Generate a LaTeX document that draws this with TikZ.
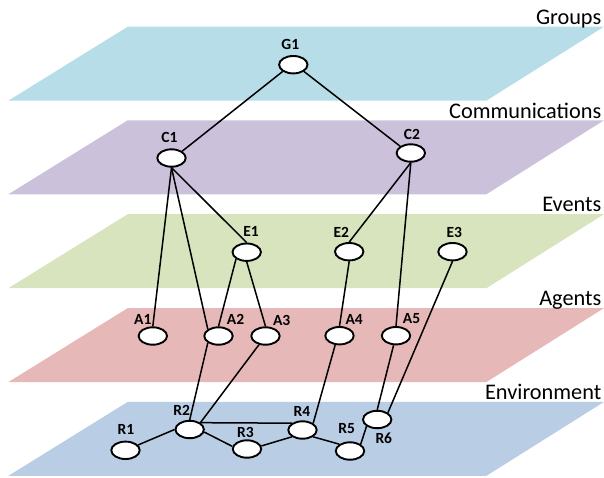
\documentclass[tikz,border=0pt]{standalone}
\usepackage{fontspec}
\setmainfont{Carlito}
\usetikzlibrary{shapes.geometric}
\pgfdeclarelayer{bg}
\pgfdeclarelayer{edges}
\pgfsetlayers{bg,edges,main}
\definecolor{plG}{HTML}{B7DDE8}
\definecolor{plC}{HTML}{CCC1DA}
\definecolor{plE}{HTML}{D7E4BD}
\definecolor{plA}{HTML}{E6B9B8}
\definecolor{plR}{HTML}{B9CDE5}
\begin{document}
\begin{tikzpicture}[x=1pt,y=-1pt,
  vtx/.style={ellipse,draw=black,fill=white,line width=1.9pt,minimum width=28.4pt,minimum height=17.4pt,inner sep=0pt},
  vlab/.style={inner sep=0pt,font=\bfseries\fontsize{15.5}{16}\selectfont},
  layerlab/.style={inner sep=0pt,anchor=base east,font=\fontsize{22.3}{24}\selectfont},
  conn/.style={line width=1.5pt,draw=black}]
\useasboundingbox (0,0) rectangle (604,477);
\begin{pgfonlayer}{bg}
\foreach \T/\c in {26.7/plG,120.3/plC,214.2/plE,308.1/plA,401.9/plR}
  \fill[\c] (127.7,\T) -- (604,\T) -- (486.3,\T+74) -- (8.3,\T+74) -- cycle;
\end{pgfonlayer}
% layer labels
\node[layerlab] (lG) at (601.5,24.4) {Groups};
\node[layerlab] (lC) at (601.5,118.0) {Communications};
\node[layerlab] (lE) at (601.5,211.9) {Events};
\node[layerlab] (lA) at (601.5,305.8) {Agents};
\node[layerlab] (lR) at (601.5,399.6) {Environment};
% vertices
\node[vtx] (G1) at (293.3,64.7) {};
\node[vtx] (C1) at (171.5,158) {};
\node[vtx] (C2) at (410.8,153) {};
\node[vtx] (E1) at (246.7,252.2) {};
\node[vtx] (E2) at (349.2,251.7) {};
\node[vtx] (E3) at (452.5,251.7) {};
\node[vtx] (A1) at (152.8,336) {};
\node[vtx] (A2) at (218.5,336) {};
\node[vtx] (A3) at (265.5,336) {};
\node[vtx] (A4) at (339.5,335.7) {};
\node[vtx] (A5) at (396,335.7) {};
\node[vtx] (R1) at (125.5,450.3) {};
\node[vtx] (R2) at (189.7,429.5) {};
\node[vtx] (R3) at (247,449) {};
\node[vtx] (R4) at (302.5,430) {};
\node[vtx] (R5) at (350,451) {};
\node[vtx] (R6) at (377.2,419.5) {};
% vertex labels
\node[vlab] (tG1) at (290.3,44) {G1};
\node[vlab] (tC1) at (169.5,137.5) {C1};
\node[vlab] (tC2) at (412,134.5) {C2};
\node[vlab] (tE1) at (251,231.3) {E1};
\node[vlab] (tE2) at (341.3,232) {E2};
\node[vlab] (tE3) at (454.3,232) {E3};
\node[vlab] (tA1) at (142.8,319.3) {A1};
\node[vlab] (tA2) at (235.5,319) {A2};
\node[vlab] (tA3) at (281.7,320) {A3};
\node[vlab] (tA4) at (354.2,319) {A4};
\node[vlab] (tA5) at (411.5,319) {A5};
\node[vlab] (tR1) at (126,429.2) {R1};
\node[vlab] (tR2) at (181.7,410) {R2};
\node[vlab] (tR3) at (245.5,432.5) {R3};
\node[vlab] (tR4) at (302,411.7) {R4};
\node[vlab] (tR5) at (346.7,428.3) {R5};
\node[vlab] (tR6) at (383.8,438.7) {R6};
% connectors
\begin{pgfonlayer}{edges}
\draw[conn] (G1.south west) -- (C1.north east);
\draw[conn] (G1.south east) -- (C2.north west);
\draw[conn] (C1.south) -- (A1.north);
\draw[conn] (C1.south) -- (A2.north west);
\draw[conn] (C1.south) -- (E1.north);
\draw[conn] (C2.south) -- (E2.north);
\draw[conn] (C2.south) -- (A5.north);
\draw[conn] (E1.south west) -- (A2.north);
\draw[conn] (E1.south) -- (A3.north);
\draw[conn] (E2.south) -- (A4.north);
\draw[conn] (E3.south) -- (R6.north east);
\draw[conn] (A5) -- (R6.north);
\draw[conn] (A2.south west) -- (R2.north);
\draw[conn] (A3) -- (R2.north east);
\draw[conn] (A4.-115) -- (R4.north east);
\draw[conn] (R1) -- (R2.west);
\draw[conn] (R2.-10) -- (R3.170);
\draw[conn] (R2.north east) -- (R4.north west);
\draw[conn] (R3.12) -- (R4.south west);
\draw[conn] (R4.south east) -- (R5.north west);
\draw[conn] (R5.north east) -- (R6.south west);
\end{pgfonlayer}
\end{tikzpicture}
\end{document}
